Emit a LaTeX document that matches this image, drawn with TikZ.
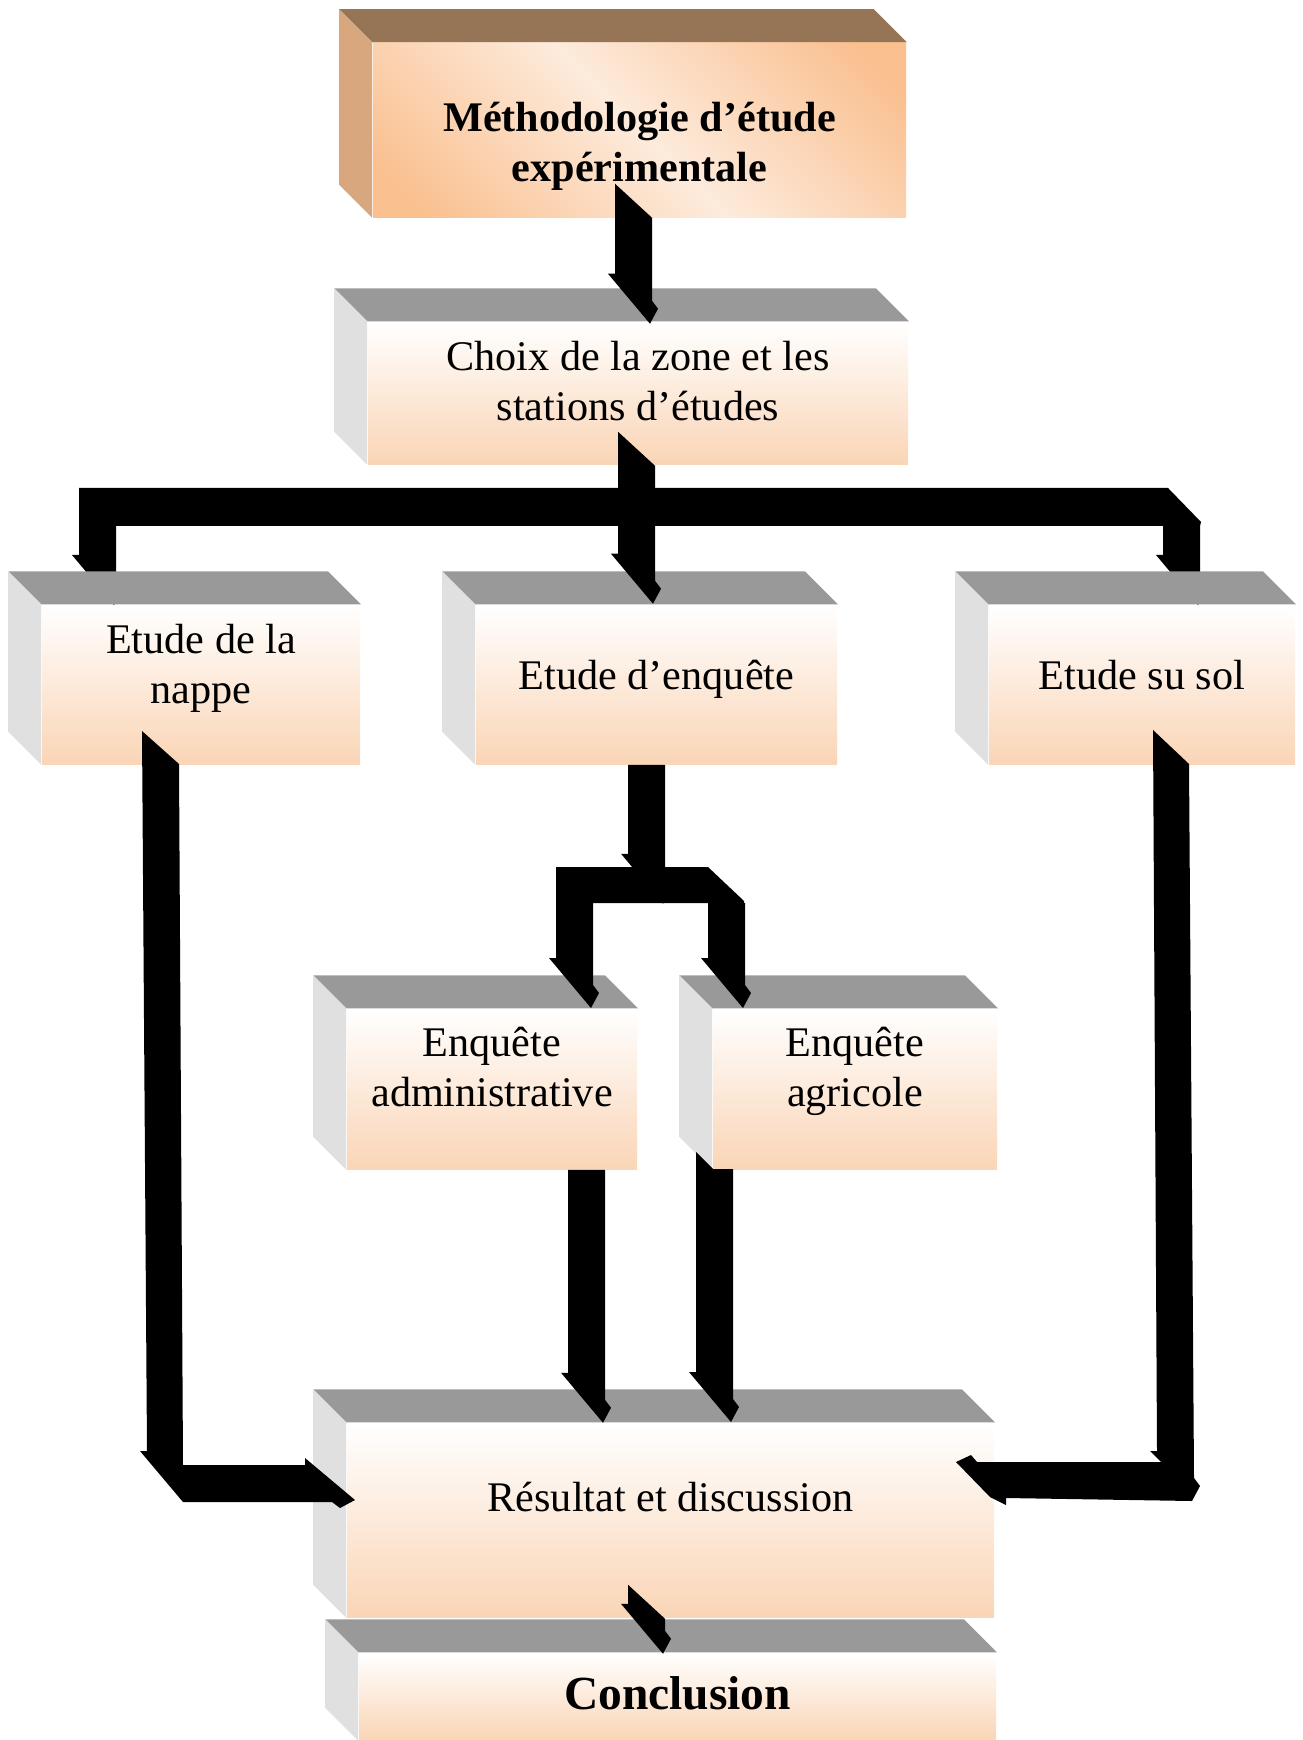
\documentclass[tikz,border=0pt]{standalone}
\usepackage{fontspec}
\setmainfont{Liberation Serif}
\definecolor{PeachBand}{RGB}{250,213,182}
\definecolor{TopGrey}{RGB}{153,153,153}
\definecolor{SideGrey}{RGB}{224,224,224}
\definecolor{MethOrange}{RGB}{250,192,144}
\definecolor{MethLight}{RGB}{253,235,220}
\definecolor{MethTop}{RGB}{150,116,86}
\definecolor{MethSide}{RGB}{216,167,126}
\pgfdeclarehorizontalshading{methshade}{100bp}{color(0bp)=(MethOrange); color(20bp)=(MethOrange);
  color(50bp)=(MethLight); color(80bp)=(MethOrange); color(100bp)=(MethOrange)}
\tikzset{
  band/.style={fill=black},
  box/.style={inner sep=0pt,align=flush center,top color=white,bottom color=PeachBand,
    font=\fontsize{12}{14.2}\selectfont},
  methbox/.style={inner sep=0pt,align=flush center,shade,shading=methshade,shading angle=45,
    font=\fontsize{12}{14.2}\selectfont\bfseries},
  pics/downarrow/.style={code={
    \fill[band] (0,0) -- (37,34) -- (37,#1-23) -- (43,#1-15) -- (35,#1) -- (-7,#1-50) -- (0,#1-50) -- cycle;}},
  pics/downflat/.style={code={
    \fill[band] (0,0) -- (37,0) -- (37,#1-23) -- (43,#1-15) -- (35,#1) -- (-7,#1-50) -- (0,#1-50) -- cycle;}}
}
\begin{document}
\begin{tikzpicture}[x=0.01cm,y=-0.01cm]
  \useasboundingbox (0,0) rectangle (1302,1740);
  % front faces
  \node[methbox,minimum width=5.33cm,minimum height=1.74cm,text width=5.2cm,text height=0.04cm,text depth=0cm]
    (meth) at (639.5,130) {Méthodologie d’étude\\expérimentale};
  \node[box,minimum width=5.40cm,minimum height=1.42cm,text width=5.3cm,text height=0cm,text depth=0.44cm]
    (choix) at (638,393) {Choix de la zone et les\\stations d’études};
  \node[box,minimum width=3.18cm,minimum height=1.59cm,text width=3.1cm,text height=0cm,text depth=0.61cm]
    (nappe) at (201,684.5) {Etude de la\\nappe};
  \node[box,minimum width=3.61cm,minimum height=1.59cm,text width=3.5cm,text height=0.10cm,text depth=0cm]
    (enq) at (656.5,684.5) {Etude d’enquête};
  \node[box,minimum width=3.06cm,minimum height=1.59cm,text width=3.0cm,text height=0.10cm,text depth=0cm]
    (sol) at (1142,684.5) {Etude su sol};
  \node[box,minimum width=2.90cm,minimum height=1.60cm,text width=2.8cm,text height=0cm,text depth=0.64cm]
    (admin) at (492,1089) {Enquête\\administrative};
  \node[box,minimum width=2.84cm,minimum height=1.60cm,text width=2.75cm,text height=0cm,text depth=0.64cm]
    (agri) at (855,1089) {Enquête\\agricole};
  \node[box,minimum width=6.47cm,minimum height=1.94cm,text width=6.3cm,text height=0cm,text depth=0.18cm]
    (res) at (670.5,1520) {Résultat et discussion};
  \node[box,minimum width=6.37cm,minimum height=0.87cm,text width=6.2cm,text height=0.25cm,text depth=0cm,
    font=\fontsize{13.5}{16}\selectfont\bfseries]
    (concl) at (677.5,1696.5) {Conclusion};
  % bar under the second box, its side arrows go behind the tops
  \fill[band] (79,488) -- (1168,488) -- (1201,522) -- (1200,526) -- (79,526) -- cycle;
  \pic at (79,526) {downflat=79};
  \pic at (1163,526) {downflat=79};
  % tops and sides
  \foreach \b/\tp/\sd in {meth/MethTop/MethSide,choix/TopGrey/SideGrey,nappe/TopGrey/SideGrey,
      enq/TopGrey/SideGrey,sol/TopGrey/SideGrey,admin/TopGrey/SideGrey,agri/TopGrey/SideGrey,
      res/TopGrey/SideGrey,concl/TopGrey/SideGrey}{
    \fill[fill=\tp] (\b.north west) -- ++(-33,-33) -- ([shift={(-33,-33)}]\b.north east) -- (\b.north east) -- cycle;
    \fill[fill=\sd] (\b.north west) -- ++(-33,-33) -- ([shift={(-33,-33)}]\b.south west) -- (\b.south west) -- cycle;
  }
  % arrows
  \pic at ([shift={(-24.5,-34)}]meth.south) {downarrow=140};
  \pic at ([shift={(-20,-33)}]choix.south) {downarrow=172};
  \pic at ([shift={(-28.5,0)}]enq.south) {downflat=139};
  \fill[band] (556,867) -- (708,867) -- (744,901) -- (744,903) -- (556,903) -- cycle;
  \pic at (556,867) {downflat=141};
  \pic at (708,903) {downflat=105};
  \fill[band] (142,731) -- (179,764) -- (183,1465) -- (305,1465) -- (305,1458) -- (355,1500)
    -- (340,1508) -- (332,1502) -- (183,1502) -- (140,1451) -- (147,1451) -- cycle;
  \fill[band] (1153,730) -- (1189,764) -- (1194,1478) -- (1200,1486) -- (1192,1501) -- (1006,1498)
    -- (1006,1505) -- (990,1497) -- (956,1462) -- (971,1455) -- (977,1462) -- (1161,1462)
    -- (1150,1451) -- (1157,1451) -- cycle;
  \pic at ([shift={(76,0)}]admin.south) {downflat=253};
  \fill[band] (696,1152) -- (713,1169) -- (733,1169) -- (733,1399) -- (739,1407) -- (731,1422)
    -- (689,1372) -- (696,1372) -- cycle;
  \pic at ([shift={(-42.5,-33)}]res.south) {downarrow=69};
\end{tikzpicture}
\end{document}
